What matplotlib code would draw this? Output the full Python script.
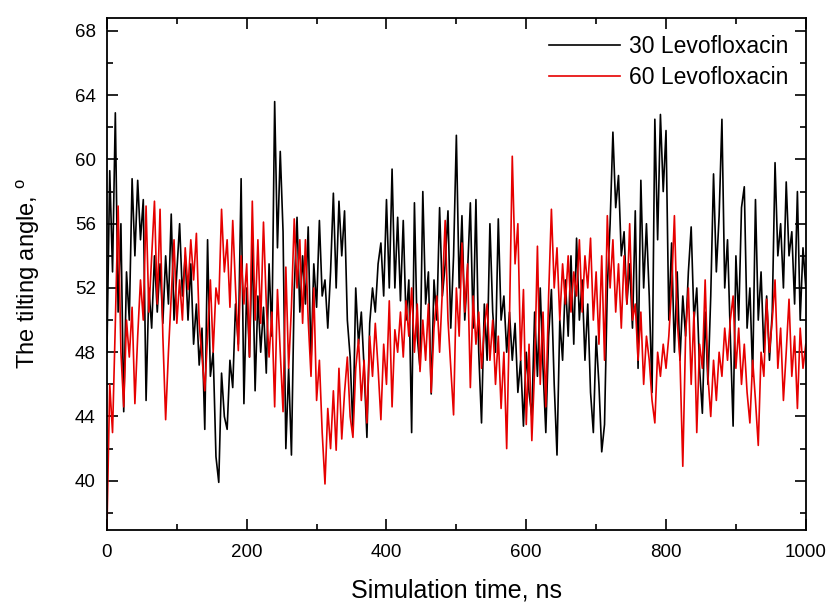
import numpy as np
import matplotlib.pyplot as plt
from matplotlib.ticker import MultipleLocator

plt.rcParams['font.family'] = ['Liberation Sans', 'DejaVu Sans']
plt.rcParams['mathtext.fontset'] = 'custom'
plt.rcParams['mathtext.rm'] = 'Liberation Sans'

# simulation time, ns (values read every 4 ns)
time_ns = np.arange(0, 1001, 4)

angle_30 = [
    48, 59.3, 53, 62.9, 50.5, 56, 44.3, 53, 50, 58.8, 54, 58.7, 55, 57.5, 45, 52,
    49.5, 54, 50.5, 53.5, 49.8, 54, 51, 56.6, 50, 53, 56, 51.5, 54, 50, 53.5, 48.5,
    51, 47.2, 49.5, 43.2, 55, 46.5, 48, 41.5, 39.9, 46.7, 44, 43.2, 47.5, 45.8, 51, 48.5,
    58.8, 44.8, 52, 47.7, 55, 45.6, 51.5, 48, 50.8, 46.7, 53.5, 49, 63.6, 54.5, 60.5, 55.5,
    42, 47, 41.6, 51.9, 56.4, 50.5, 54, 51, 55.8, 47.3, 53.5, 50.8, 56.2, 51.5, 52.5, 49.5,
    53, 57.9, 52, 57.4, 54, 56.8, 50, 47.7, 43.1, 52, 48.5, 50.5, 47, 42.7, 49.8, 52,
    50.5, 53.5, 54.8, 51.5, 57.5, 52, 59.4, 52, 56.4, 51.2, 56.2, 50, 52.5, 43, 57.3, 49,
    47, 58, 51, 53, 45.4, 52.5, 50, 57, 51.5, 53.5, 56.8, 49.5, 54, 61.5, 52, 56.5,
    50, 53, 57.3, 49.5, 57.5, 48, 43.6, 51, 47.5, 56, 50.5, 48, 56.3, 50, 51.5, 48,
    50.5, 47.5, 49.8, 45.5, 47.5, 43.4, 48, 45.5, 44, 50.5, 46.5, 52, 47, 43, 49, 51.9,
    46, 41.6, 50, 47.5, 52.5, 49, 54, 48.5, 55.1, 50, 52.5, 47.5, 51, 45.5, 43, 49,
    46, 41.8, 43.5, 52, 56, 61.7, 57, 59, 54, 55.5, 51, 53.5, 49.5, 56.8, 47, 58.7,
    52, 56, 51.5, 45.5, 62.5, 55, 62.8, 58, 61.8, 50, 54.8, 48, 53, 47.5, 51.5, 49,
    53, 55.8, 50, 52, 47, 44.2, 50.5, 46, 51.5, 59.1, 53, 56.5, 62.5, 52, 55, 49,
    43.4, 54, 50, 57, 58.3, 49.5, 52, 46.5, 57.5, 50, 53, 48, 51.5, 47.5, 50.5, 59.8,
    54, 56, 52, 58.6, 54, 55.5, 51, 58, 50, 54.5, 52,
]

angle_60 = [
    37, 46, 43, 49.8, 57.1, 48, 44.6, 50, 47.7, 50.8, 44.8, 49, 52.5, 50, 57.1, 50.5,
    54, 57.4, 51, 56.9, 49, 43.8, 48, 51.5, 55, 49.8, 52.5, 50, 54.5, 51.9, 55, 52.5,
    55.4, 49.8, 47.7, 45.6, 49, 52.5, 48, 52, 51, 56.9, 53, 55, 50.8, 56.2, 52, 48.1,
    54, 51, 53.5, 47.7, 57.4, 50, 55, 49.8, 56.1, 51, 47.7, 50.5, 44.6, 51.9, 48, 44.3,
    53.3, 47, 50.8, 56.3, 52, 55, 49.8, 55, 50, 46.5, 52, 45, 47.5, 43, 39.8, 44.5,
    42, 45.6, 41.9, 47, 42.6, 45.5, 47.7, 44, 42.7, 47, 48.8, 45, 47.5, 43.6, 49, 46.5,
    49.8, 47, 43.8, 48.5, 46, 51.2, 44.6, 49.4, 48, 50.5, 47.7, 51.2, 49, 52, 48, 51,
    46.8, 50, 47.5, 51, 45.5, 49.5, 51.5, 48, 51.9, 56.2, 50, 47, 44.1, 52, 49, 54.8,
    50.5, 53.5, 45.8, 51.5, 48.5, 50.5, 47, 49.5, 51, 47.5, 50, 46, 49, 44.5, 48, 42,
    50, 60.2, 53.5, 56, 47.5, 51.9, 43.5, 48.5, 42.5, 47, 54.6, 46, 50.5, 44.6, 51.5, 56.9,
    52, 54.5, 50, 53.5, 51, 54, 50.5, 53, 51.5, 55, 50.5, 54, 52, 55.1, 50, 53,
    48.5, 54, 47.5, 56.5, 52, 55, 50.5, 53.5, 49.5, 54, 51, 56, 50, 51, 47.5, 50.5,
    46, 49, 47.5, 45, 43.6, 48, 46.5, 48.5, 47, 49, 52, 56.5, 50, 47.5, 40.9, 49,
    52, 46, 50.5, 43, 48.5, 47, 52.5, 46.5, 44, 47.5, 45, 48, 46.5, 49.5, 47.5, 50,
    51.5, 47, 49.5, 46, 48.5, 45.5, 43.6, 47.5, 45, 42.2, 48, 46.5, 51.3, 48, 50, 52.5,
    47, 49.5, 45, 48, 51.3, 46.5, 49, 44.5, 49.5, 47, 48.5,
]

series_labels = ['30 Levofloxacin', '60 Levofloxacin']

fig = plt.figure(figsize=(8.29, 6.02), dpi=100)
ax = fig.add_axes([0.129, 0.12, 0.843, 0.85])

ax.plot(time_ns, angle_30, color='black', lw=1.2, label=series_labels[0])
ax.plot(time_ns, angle_60, color='#e60000', lw=1.2, label=series_labels[1])

ax.set_xlim(0, 1000)
ax.set_ylim(36.95, 68.8)
ax.xaxis.set_major_locator(MultipleLocator(200))
ax.xaxis.set_minor_locator(MultipleLocator(100))
ax.yaxis.set_major_locator(MultipleLocator(4))
ax.yaxis.set_minor_locator(MultipleLocator(2))
ax.tick_params(which='both', direction='in', top=True, right=True, width=1.2,
               labelsize=13.5)
ax.tick_params(which='major', length=8)
ax.tick_params(which='minor', length=4.5)
ax.tick_params(axis='x', pad=10)
ax.tick_params(axis='y', pad=8)
for s in ax.spines.values():
    s.set_linewidth(1.3)

ax.set_xlabel('Simulation time, ns', fontsize=18)
ax.set_ylabel('The tilting angle, $^{\\mathrm{o}}$', fontsize=17)
ax.xaxis.set_label_coords(0.5, -0.095)
ax.yaxis.set_label_coords(-0.093, 0.5)

ax.legend(loc='upper right', frameon=False, fontsize=16.5, handlelength=3.1,
          handletextpad=0.4, labelspacing=0.35, borderaxespad=0.35)

fig.savefig('out.png', dpi=100)
